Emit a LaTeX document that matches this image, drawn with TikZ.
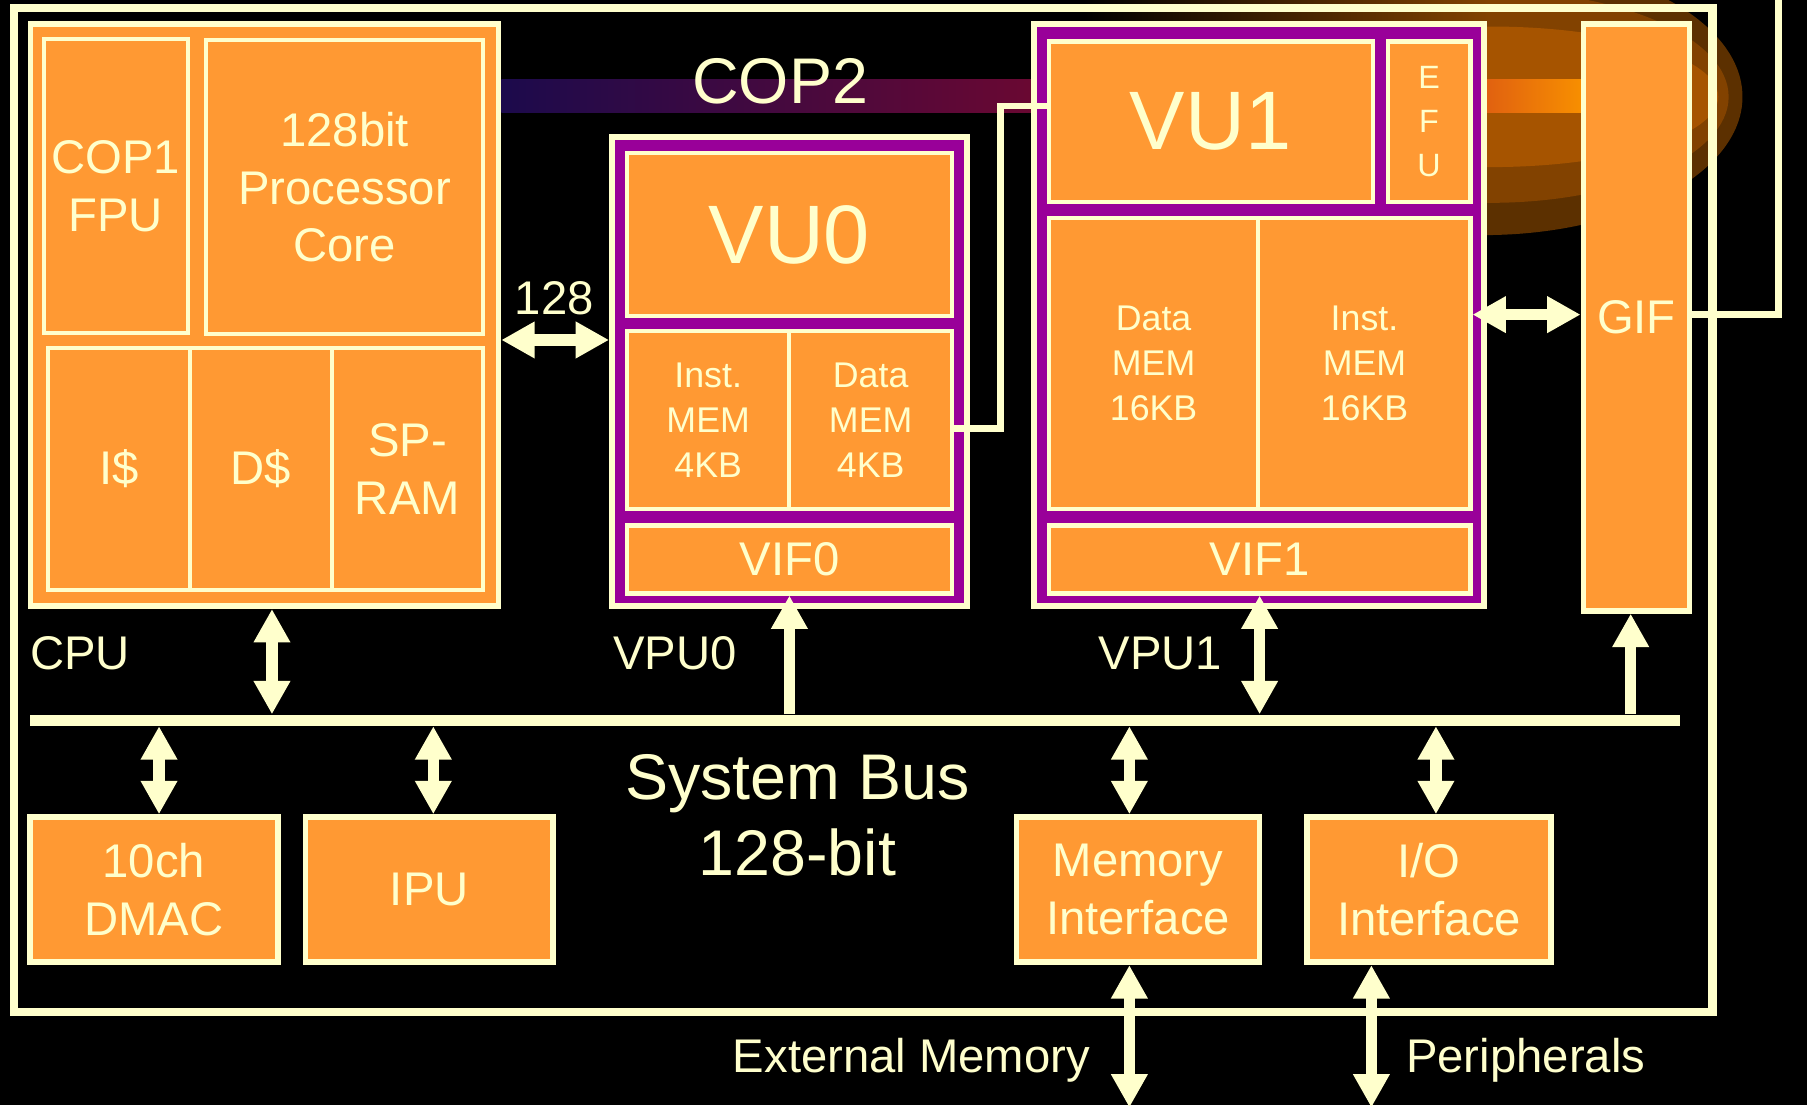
\documentclass[tikz,border=0pt]{standalone}
\usepackage{fontspec}
\setmainfont{Liberation Sans}
\usetikzlibrary{arrows.meta}
\definecolor{cream}{HTML}{FFFFCC}
\definecolor{org}{HTML}{FF9933}
\definecolor{purp}{HTML}{990099}
\definecolor{glowOut}{HTML}{5C3000}
\definecolor{glowMid}{HTML}{824200}
\definecolor{glowIn}{HTML}{A65400}
\definecolor{barL}{HTML}{1C0A4C}
\definecolor{barM}{HTML}{6A0832}
\definecolor{barR1}{HTML}{E06010}
\definecolor{barR2}{HTML}{F89000}
\newcommand\tfbig{\fontsize{41}{50}\selectfont}
\newcommand\tfmem{\fontsize{31}{39}\selectfont}
\newcommand\tfhuge{\fontsize{72}{80}\selectfont}
\newcommand\tfbus{\fontsize{56}{66}\selectfont}
\newcommand\tfefu{\fontsize{28}{38}\selectfont}
\begin{document}
\begin{tikzpicture}[x=1pt,y=-1pt,
  frame/.style={draw=cream, line width=7pt, inner sep=0pt},
  outerbox/.style={draw=cream, fill=org, line width=5pt, inner sep=0pt, text=cream, align=center, font=\tfbig},
  inbox/.style={draw=cream, fill=org, line width=3.5pt, inner sep=0pt, text=cream, align=center, font=\tfbig},
  membox/.style={inbox, font=\tfmem},
  vpubox/.style={draw=cream, fill=purp, line width=5pt, inner sep=0pt},
  busbar/.style={fill=cream, inner sep=0pt},
  lab/.style={text=cream, font=\tfbig, inner sep=0pt},
  dbl/.style={draw=cream, line width=10pt, >={Triangle[width=30pt,length=29pt]}, <->},
  sgl/.style={draw=cream, line width=10pt, >={Triangle[width=30pt,length=29pt]}, ->},
  wire/.style={draw=cream, line width=6pt, line join=miter}]
\fill[black] (0,0) rectangle (1568,959);
\useasboundingbox (0,0) rectangle (1568,959);
% glow behind the top right
\fill[glowOut] (1287,84) ellipse [x radius=225, y radius=120];
\fill[glowMid] (1293,84) ellipse [x radius=207, y radius=92];
\fill[glowIn] (1293,84) ellipse [x radius=198, y radius=61];
\fill[left color=black, right color=glowMid] (940,-2) rectangle (1292,20);
% COP2 bar
\fill[left color=barL, right color=barM] (435,69) rectangle (897,98);
\fill[left color=barR1, right color=barR2] (1288,69) rectangle (1374,98);
% chip frame
\node[frame, minimum width=1473.5pt, minimum height=871pt] (chip) at (749.25,442.5) {};
% CPU
\node[outerbox, minimum width=406pt, minimum height=505pt] (cpu) at (229.5,273.5) {};
\node[inbox, minimum width=125pt, minimum height=255pt] (cop1) at (100.5,161.5) {COP1\\FPU};
\node[inbox, minimum width=240pt, minimum height=255pt] (core) at (299,162.5) {128bit\\Processor\\Core};
\node[inbox, minimum width=123pt, minimum height=210pt] (icache) at (103.5,407) {I\$};
\node[inbox, minimum width=123pt, minimum height=210pt] (dcache) at (226.5,407) {D\$};
\node[inbox, minimum width=131pt, minimum height=210pt] (spram) at (353.5,407) {SP-\\RAM};
% VPU0
\node[vpubox, minimum width=308pt, minimum height=407pt] (vpu0) at (685,322.5) {};
\node[inbox, font=\tfhuge, minimum width=282pt, minimum height=141pt] (vu0) at (685,203.5) {VU0};
\node[membox, minimum width=141pt, minimum height=155pt] (inst0) at (614.5,364.5) {Inst.\\MEM\\4KB};
\node[membox, minimum width=141pt, minimum height=155pt] (data0) at (755.5,364.5) {Data\\MEM\\4KB};
\node[inbox, minimum width=282pt, minimum height=59pt] (vif0) at (685,485.5) {VIF0};
% VPU1
\node[vpubox, minimum width=391pt, minimum height=505pt] (vpu1) at (1092.5,273.5) {};
\node[inbox, font=\tfhuge, minimum width=281pt, minimum height=139pt] (vu1) at (1050.5,105.5) {VU1};
\node[inbox, font=\tfefu, minimum width=72pt, minimum height=139pt] (efu) at (1240,105.5) {E\\F\\U};
\node[membox, minimum width=182pt, minimum height=253pt] (data1) at (1001,315.5) {Data\\MEM\\16KB};
\node[membox, minimum width=184pt, minimum height=253pt] (inst1) at (1184,315.5) {Inst.\\MEM\\16KB};
\node[inbox, minimum width=366pt, minimum height=59pt] (vif1) at (1093,485.5) {VIF1};
% GIF
\node[outerbox, minimum width=92pt, minimum height=509pt] (gif) at (1420,275.5) {GIF};
% bus
\node[busbar, minimum width=1432pt, minimum height=10pt] (bus) at (742,625) {};
% bottom boxes
\node[outerbox, minimum width=215pt, minimum height=126pt] (dmac) at (133.5,772) {10ch\\DMAC};
\node[outerbox, minimum width=215pt, minimum height=126pt] (ipu) at (372.5,772) {IPU};
\node[outerbox, minimum width=211pt, minimum height=126pt] (memif) at (987.5,772) {Memory\\Interface};
\node[outerbox, minimum width=212pt, minimum height=126pt] (ioif) at (1240,772) {I/O\\Interface};
% labels
\node[lab, anchor=base west] (cpulab) at (26,581) {CPU};
\node[lab, anchor=base west] (vpu0lab) at (532,581) {VPU0};
\node[lab, anchor=base west] (vpu1lab) at (953,581) {VPU1};
\node[lab, anchor=base] (w128) at (481,273) {128};
\node[lab, font=\tfbus, anchor=base] (cop2lab) at (677,90) {COP2};
\node[lab, font=\tfbus, anchor=base] (sysbus1) at (692,694) {System Bus};
\node[lab, font=\tfbus, anchor=base] (sysbus2) at (692,760) {128-bit};
\node[lab, anchor=base east] (extlab) at (946,931) {External Memory};
\node[lab, anchor=base west] (perlab) at (1220,931) {Peripherals};
% connectors
\coordinate (extmem) at (980,961);
\coordinate (periph) at (1190,961);
\coordinate (gifout) at (1543,-5);
\draw[wire] (vu1.west |- 0,92) -- (868,92) -- (868,372) -- (data0.east |- 0,372);
\draw[wire] (gif.east |- 0,273) -| (gifout);
\draw[dbl] (cpu.east |- 0,295) -- (vpu0.west |- 0,295);
\draw[dbl] (inst1.east |- 0,273) -- (gif.west |- 0,273);
\draw[dbl] (236,0 |- cpu.south) -- (236,0 |- bus.north);
\draw[sgl] (vif0.south |- bus.north) -- (vif0.south);
\draw[dbl] (vif1.south) -- (vif1.south |- bus.north);
\draw[sgl] (1415,0 |- bus.north) -- (1415,0 |- gif.south);
\draw[dbl] (138,0 |- bus.south) -- (138,0 |- dmac.north);
\draw[dbl] (376,0 |- bus.south) -- (376,0 |- ipu.north);
\draw[dbl] (980,0 |- bus.south) -- (980,0 |- memif.north);
\draw[dbl] (1246,0 |- bus.south) -- (1246,0 |- ioif.north);
\draw[dbl] (extmem |- memif.south) -- (extmem);
\draw[dbl] (periph |- ioif.south) -- (periph);
\end{tikzpicture}
\end{document}
